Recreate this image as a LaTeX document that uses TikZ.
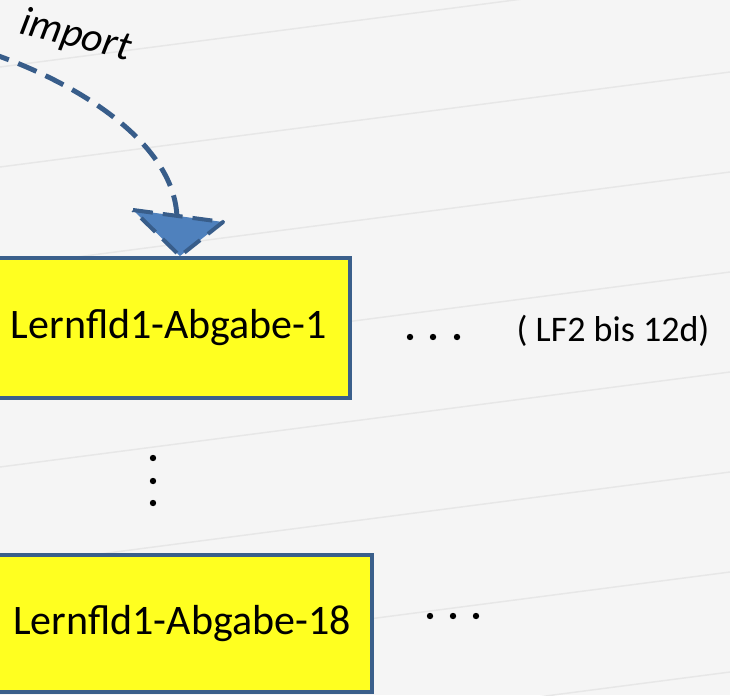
\documentclass[tikz,border=0pt]{standalone}
\usepackage{fontspec}
\setmainfont{Carlito}
\definecolor{bg}{RGB}{245,245,245}
\definecolor{gridc}{RGB}{231,231,231}
\definecolor{boxfill}{RGB}{255,255,32}
\definecolor{boxline}{RGB}{58,95,139}
\definecolor{arrdark}{RGB}{56,93,138}
\definecolor{arrfill}{RGB}{79,129,189}
\tikzset{
  gridline/.style={draw=gridc, line width=1.1pt},
  yellowbox/.style={draw=boxline, line width=3pt, fill=boxfill, inner sep=0pt,
    font=\fontsize{31.5}{36}\selectfont},
  imparrow/.style={draw=arrdark, line width=3.7pt, dash pattern=on 15pt off 7.5pt},
  headtri/.style={draw=arrdark, fill=arrfill, line width=3pt, dash pattern=on 15pt off 7.5pt, line join=round},
  dotmark/.style={fill=black, draw=none},
}
\begin{document}
\begin{tikzpicture}[x=0.75pt,y=-0.75pt]
\useasboundingbox (0,0) rectangle (730,695);
\begin{scope}
\clip (0,0) rectangle (730,695);
\fill[bg] (0,0) rectangle (730,695);
\foreach \k in {0,...,7} {
  \draw[gridline] (0,{67+100*\k}) -- (730,{67+100*\k-95});
}
\node[yellowbox, minimum width=271.5pt, minimum height=105pt] (b1) at (169,328) {Lernfld1-Abgabe-1};
\node[yellowbox, minimum width=285pt, minimum height=102.75pt] (b2) at (182,623.5) {Lernfld1-Abgabe-18};
\coordinate (src) at (-10,53);
\coordinate (tip) at ([xshift=8.25pt]b1.north);
\coordinate (hl) at (133,210);
\coordinate (hr) at (223,222);
\draw[imparrow] (src) .. controls (70,80) and (175,140) .. (177,218);
\draw[headtri] (hl) -- (hr) -- (tip) -- cycle;
\node[font=\itshape\fontsize{31}{36}\selectfont, rotate=-14, anchor=base, inner sep=0pt] (imp) at (73,47) {import};
\node[font=\fontsize{27}{32}\selectfont, anchor=base, inner sep=0pt] (lf) at (613,341) {( LF2 bis 12d)};
\foreach \y in {458,481,503} { \fill[dotmark] (153,\y) circle (2.4pt); }
\foreach \x in {410,433,457} { \fill[dotmark] (\x,337) circle (2.4pt); }
\foreach \x in {430,453,476} { \fill[dotmark] (\x,616) circle (2.4pt); }
\end{scope}
\end{tikzpicture}
\end{document}
